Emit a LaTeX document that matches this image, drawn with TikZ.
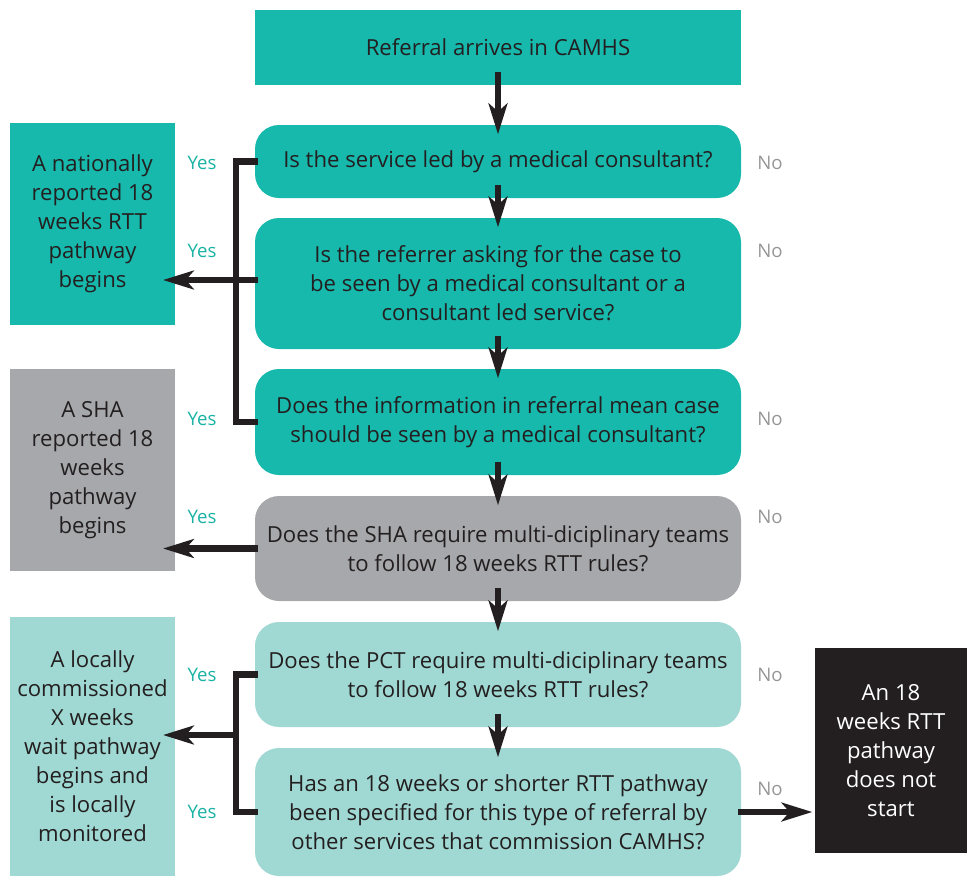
\documentclass[tikz,border=0pt]{standalone}
\usepackage{fontspec}
\setmainfont{Open Sans}
\usetikzlibrary{arrows.meta}

\definecolor{camhsteal}{RGB}{23,185,172}
\definecolor{camhsgrey}{RGB}{167,168,171}
\definecolor{camhslight}{RGB}{160,217,211}
\definecolor{camhsblack}{RGB}{35,31,32}
\definecolor{yestext}{RGB}{26,178,164}
\definecolor{notext}{RGB}{150,150,152}

\begin{document}
\begin{tikzpicture}[x=0.75pt,y=-0.75pt,
    question/.style={rounded corners=18pt, minimum width=364.5pt},
    outcome/.style={minimum width=123.75pt},
    flow/.style={draw=camhsblack, line width=5pt, -{Stealth[length=23pt,width=14pt,inset=6pt]}},
    link/.style={draw=camhsblack, line width=5pt, line join=miter},
    yes/.style={text=yestext, font=\fontsize{14}{16}\selectfont},
    no/.style={text=notext, font=\fontsize{14}{16}\selectfont}]
        \useasboundingbox (0,0) rectangle (967,876);
        \begin{scope}[every node/.style={inner sep=0pt, outer sep=0pt, align=center, text=camhsblack, font=\fontsize{16.6}{21.75}\selectfont}]
            \node[fill=camhsteal, minimum width=364.5pt, minimum height=56.25pt] (arrive) at (498,47.5) {Referral arrives in CAMHS};

            \node[question, fill=camhsteal, minimum height=54.75pt] (q1) at (498,161.5) {Is the service led by a medical consultant?};
            \node[question, fill=camhsteal, minimum height=98.25pt] (q2) at (498,283.5) {Is the referrer asking for the case to\\be seen by a medical consultant or a\\consultant led service?};
            \node[question, fill=camhsteal, minimum height=79.5pt] (q3) at (498,422) {Does the information in referral mean case\\should be seen by a medical consultant?};
            \node[question, fill=camhsgrey, minimum height=78.75pt] (q4) at (498,548.5) {Does the SHA require multi-diciplinary teams\\to follow 18 weeks RTT rules?};
            \node[question, fill=camhslight, minimum height=78.75pt] (q5) at (498,674.5) {Does the PCT require multi-diciplinary teams\\to follow 18 weeks RTT rules?};
            \node[question, fill=camhslight, minimum height=96pt] (q6) at (498,812) {Has an 18 weeks or shorter RTT pathway\\been specified for this type of referral by\\other services that commission CAMHS?};

            \node[outcome, fill=camhsteal, minimum height=151.5pt] (national) at (92.5,224) {A nationally\\reported 18\\weeks RTT\\pathway\\begins};
            \node[outcome, fill=camhsgrey, minimum height=151.5pt] (sha) at (92.5,470) {A SHA\\reported 18\\weeks\\pathway\\begins};
            \node[outcome, fill=camhslight, minimum height=194.25pt] (local) at (92.5,746.5) {A locally\\commissioned\\X weeks\\wait pathway\\begins and\\is locally\\monitored};
            \node[fill=camhsblack, text=white, minimum width=114pt, minimum height=153.75pt] (nostart) at (891,750.5) {An 18\\weeks RTT\\pathway\\does not\\start};
        \end{scope}

        % yes / no labels
        \node[yes] (y1) at (202,163) {Yes};
        \node[yes] (y2) at (202,251) {Yes};
        \node[yes] (y3) at (202,419) {Yes};
        \node[yes] (y4) at (202,517) {Yes};
        \node[yes] (y5) at (202,675) {Yes};
        \node[yes] (y6) at (202,812) {Yes};
        \node[no] (n1) at (770,163) {No};
        \node[no] (n2) at (770,251) {No};
        \node[no] (n3) at (770,419) {No};
        \node[no] (n4) at (770,517) {No};
        \node[no] (n5) at (770,675) {No};
        \node[no] (n6) at (770,789) {No};

        \begin{scope}[every edge/.style={flow, shorten <=-10pt, shorten >=-7pt}]
            \path (arrive) edge (q1);
            \path (q1) edge (q2);
            \path (q2) edge (q3);
            \path (q3) edge (q4);
            \path (q4) edge (q5);
            \path (q5) edge (q6);
        \end{scope}

        \coordinate (b1) at (236,280);
        \coordinate (b2) at (236,735);
        \draw[link] ([xshift=2pt]q1.west) -| (b1 |- q3.west) -- ([xshift=2pt]q3.west);
        \draw[link] ([xshift=2pt]q5.west) -| (b2 |- q6.west) -- ([xshift=2pt]q6.west);
        \draw[flow, shorten >=-9pt] ([xshift=2pt]q2.west |- b1) -- (national.east |- b1);
        \draw[flow, shorten >=-9pt] ([xshift=2pt]q4.west) -- (q4.west -| sha.east);
        \draw[flow, shorten >=-9pt] (b2) -- (b2 -| local.east);
        \draw[flow, shorten >=2pt] ([xshift=-2pt]q6.east) -- (q6.east -| nostart.west);
\end{tikzpicture}
\end{document}
